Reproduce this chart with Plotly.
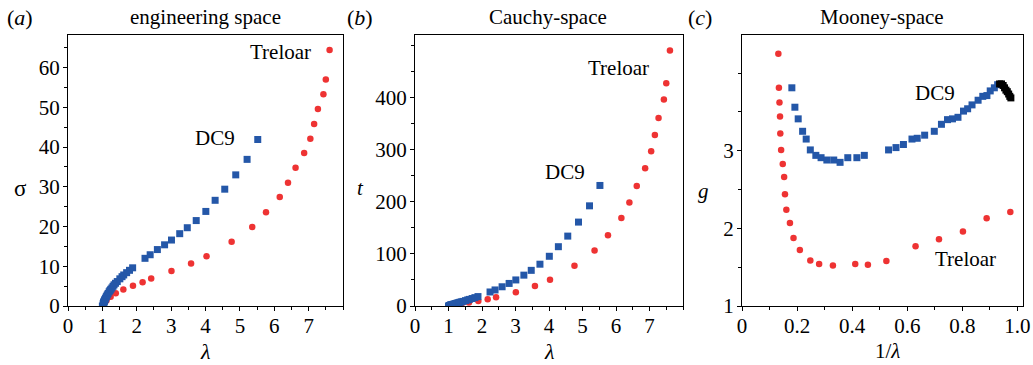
import plotly.graph_objects as go

# ---------------- data ----------------
# Treloar
treloar_lam = [1.03, 1.12, 1.24, 1.39, 1.61, 1.89, 2.17, 2.42, 3.01, 3.58, 4.03, 4.76,
               5.36, 5.76, 6.16, 6.40, 6.62, 6.87, 7.05, 7.16, 7.27, 7.43, 7.50, 7.61]
treloar_sigma = [0.35, 1.37, 2.3, 3.23, 4.16, 5.1, 6.0, 6.9, 8.8, 10.7, 12.5, 16.2,
                 19.9, 23.6, 27.4, 31.0, 34.8, 38.5, 42.1, 45.8, 49.6, 53.3, 57.0, 64.4]
treloar_t = [0.36, 1.53, 2.85, 4.49, 6.70, 9.64, 13.0, 16.7, 26.5, 38.3, 50.4, 77.1,
             106.7, 135.9, 168.8, 198.4, 230.4, 264.5, 296.8, 327.9, 360.6, 396.0, 427.5, 490.1]
treloar_inv = [0.132, 0.134, 0.136, 0.138, 0.139, 0.142, 0.148, 0.153, 0.156, 0.161, 0.174, 0.187,
               0.210, 0.248, 0.280, 0.330, 0.411, 0.457, 0.524, 0.630, 0.715, 0.802, 0.888, 0.974]
treloar_g = [4.25, 3.81, 3.62, 3.44, 3.22, 3.01, 2.83, 2.66, 2.44, 2.24, 2.07, 1.876,
             1.72, 1.585, 1.54, 1.52, 1.54, 1.53, 1.58, 1.77, 1.86, 1.96, 2.13, 2.21]

# DC9 (small-strain points drawn black in Mooney space)
dc9_lam = [1.0, 1.025, 1.029, 1.033, 1.038, 1.044, 1.049, 1.055, 1.062, 1.070,
           1.078, 1.092, 1.110, 1.125, 1.144, 1.167, 1.198, 1.221, 1.244, 1.276,
           1.309, 1.340, 1.381, 1.433, 1.508, 1.572, 1.621, 1.706, 1.789, 1.880,
           2.24, 2.39, 2.60, 2.81, 3.01, 3.25, 3.47, 3.73, 4.01, 4.28, 4.56, 4.88, 5.21, 5.52]
dc9_sigma = [0.0, 0.53, 0.62, 0.72, 0.83, 0.95, 1.08, 1.20, 1.34, 1.51,
             1.67, 1.93, 2.25, 2.48, 2.81, 3.16, 3.60, 3.90, 4.20, 4.54,
             4.95, 5.33, 5.72, 6.15, 6.84, 7.38, 7.81, 8.39, 8.98, 9.61,
             12.0, 12.9, 14.2, 15.4, 16.6, 18.2, 19.7, 21.5, 23.8, 26.6, 29.4, 33.0, 36.9, 41.9]
dc9_t = [0.0, 0.54, 0.64, 0.74, 0.87, 0.99, 1.13, 1.27, 1.43, 1.62,
         1.80, 2.10, 2.50, 2.79, 3.22, 3.69, 4.31, 4.76, 5.22, 5.79,
         6.48, 7.14, 7.90, 8.81, 10.31, 11.60, 12.66, 14.32, 16.06, 18.07,
         26.9, 30.8, 36.9, 43.3, 50.0, 59.2, 68.4, 80.2, 95.4, 113.8, 134.1, 161.0, 192.2, 231.3]
dc9_inv = [0.181, 0.192, 0.204, 0.220, 0.233, 0.248, 0.268, 0.287, 0.308, 0.333, 0.356,
           0.384, 0.417, 0.444, 0.532, 0.559, 0.586, 0.617, 0.636, 0.663, 0.698, 0.724,
           0.746, 0.764, 0.784, 0.804, 0.819, 0.835, 0.857, 0.874, 0.889, 0.901, 0.916, 0.928]
dc9_g = [3.81, 3.56, 3.41, 3.25, 3.15, 3.01, 2.94, 2.91, 2.88, 2.88, 2.85,
         2.91, 2.91, 2.94, 3.01, 3.04, 3.08, 3.15, 3.16, 3.20, 3.25, 3.34,
         3.40, 3.41, 3.43, 3.51, 3.54, 3.59, 3.65, 3.70, 3.71, 3.77, 3.81, 3.85]
dc9_inv_black = [0.935, 0.942, 0.948, 0.953, 0.958, 0.963, 0.968, 0.972, 0.976]
dc9_g_black = [3.86, 3.86, 3.84, 3.81, 3.78, 3.76, 3.73, 3.70, 3.68]

RED = "#ee3333"
BLUE = "#2457a8"
FONT = "Liberation Serif, Times New Roman, serif"

red_m = dict(symbol="circle", size=6.5, color=RED, line=dict(width=0))
blue_m = dict(symbol="square", size=7, color=BLUE, line=dict(width=0))
black_m = dict(symbol="square", size=7, color="black", line=dict(width=0))

fig = go.Figure()
fig.add_trace(go.Scatter(x=treloar_lam, y=treloar_sigma, mode="markers", marker=red_m, xaxis="x", yaxis="y"))
fig.add_trace(go.Scatter(x=dc9_lam, y=dc9_sigma, mode="markers", marker=blue_m, xaxis="x", yaxis="y"))
fig.add_trace(go.Scatter(x=treloar_lam, y=treloar_t, mode="markers", marker=red_m, xaxis="x2", yaxis="y2"))
fig.add_trace(go.Scatter(x=dc9_lam, y=dc9_t, mode="markers", marker=blue_m, xaxis="x2", yaxis="y2"))
fig.add_trace(go.Scatter(x=treloar_inv, y=treloar_g, mode="markers", marker=red_m, xaxis="x3", yaxis="y3"))
fig.add_trace(go.Scatter(x=dc9_inv, y=dc9_g, mode="markers", marker=blue_m, xaxis="x3", yaxis="y3"))
fig.add_trace(go.Scatter(x=dc9_inv_black, y=dc9_g_black, mode="markers", marker=black_m, xaxis="x3", yaxis="y3"))

W, H = 1033, 365
ydom = [1 - 306 / H, 1 - 35 / H]


def xd(a, b):
    return [a / W, b / W]


tickfont = dict(family=FONT, size=21, color="black")
minor = dict(ticks="outside", ticklen=3, tickcolor="black", showgrid=False)
common = dict(showline=True, linecolor="black", linewidth=1, mirror=True, ticks="outside",
              ticklen=4, tickcolor="black", showgrid=False, zeroline=False, tickfont=tickfont,
              automargin=False)
xc = dict(common, ticklabelstandoff=-3)
yc = dict(common, ticklabelstandoff=-1)

fig.update_layout(
    width=W, height=H, margin=dict(l=0, r=0, t=0, b=0, autoexpand=False),
    paper_bgcolor="white", plot_bgcolor="white", showlegend=False,
    font=dict(family=FONT, color="black"),
    xaxis=dict(domain=xd(68, 343), range=[0, 8], tickvals=[0, 1, 2, 3, 4, 5, 6, 7],
               anchor="y", minor=dict(minor, dtick=0.5), **xc),
    yaxis=dict(domain=ydom, range=[0, 68.2], tickvals=[0, 10, 20, 30, 40, 50, 60],
               anchor="x", minor=dict(minor, dtick=5), **yc),
    xaxis2=dict(domain=xd(415, 683), range=[0, 8], tickvals=[0, 1, 2, 3, 4, 5, 6, 7],
                anchor="y2", minor=dict(minor, dtick=0.5), **xc),
    yaxis2=dict(domain=ydom, range=[0, 520], tickvals=[0, 100, 200, 300, 400],
                anchor="x2", minor=dict(minor, dtick=50), **yc),
    xaxis3=dict(domain=xd(742, 1023), range=[0, 1.02], tickvals=[0, 0.2, 0.4, 0.6, 0.8, 1.0],
                ticktext=["0", "0.2", "0.4", "0.6", "0.8", "1.0"],
                anchor="y3", minor=dict(minor, dtick=0.1), **xc),
    yaxis3=dict(domain=ydom, range=[1, 4.49], tickvals=[1, 2, 3],
                anchor="x3", minor=dict(minor, dtick=0.5), **yc),
)

ann = []


def ptext(x, y, text, size=21):
    ann.append(dict(x=x / W, y=1 - y / H, xref="paper", yref="paper", text=text, showarrow=False,
                    font=dict(family=FONT, size=size, color="black"), xanchor="center", yanchor="middle"))


# panel labels and titles
ptext(20, 17, "(<i>a</i>)", 22)
ptext(205, 17, "engineering space", 21)
ptext(360, 17, "(<i>b</i>)", 22)
ptext(548, 17, "Cauchy-space", 21)
ptext(700, 17, "(<i>c</i>)", 22)
ptext(882, 17, "Mooney-space", 21)
# axis titles
ptext(20, 188, "σ", 23)
ptext(205, 351, "<i>λ</i>", 22)
ptext(360, 188, "<i>t</i>", 21)
ptext(549, 351, "<i>λ</i>", 22)
ptext(703, 191, "<i>g</i>", 21)
ptext(887, 351, "1/<i>λ</i>", 21)


def dtext(x, y, text, xr, yr):
    ann.append(dict(x=x, y=y, xref=xr, yref=yr, text=text, showarrow=False,
                    font=dict(family=FONT, size=21, color="black"), xanchor="center", yanchor="middle"))


dtext(6.17, 63.9, "Treloar", "x", "y")
dtext(4.27, 42.4, "DC9", "x", "y")
dtext(6.07, 457, "Treloar", "x2", "y2")
dtext(4.47, 258, "DC9", "x2", "y2")
dtext(0.70, 3.74, "DC9", "x3", "y3")
dtext(0.81, 1.60, "Treloar", "x3", "y3")

fig.update_layout(annotations=ann)
fig.write_html("out.html")
